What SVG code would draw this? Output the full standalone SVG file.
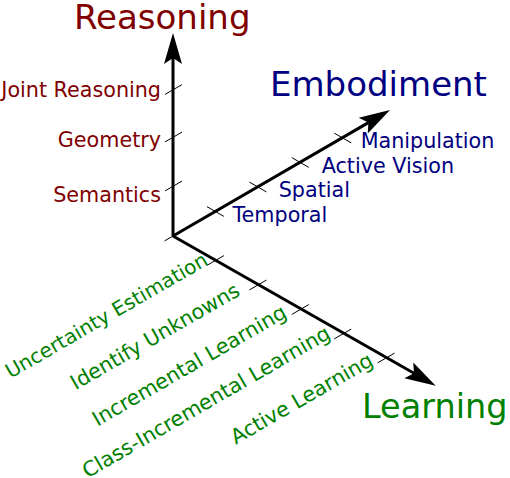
<svg xmlns="http://www.w3.org/2000/svg" width="510" height="478" viewBox="0 0 510 478">
<style>
text{font-family:"DejaVu Sans","Liberation Sans",sans-serif}
.title{font-size:34px}
.lab{font-size:20.7px}
.r{fill:#800000}
.e{fill:#000080}
.l{fill:#008000}
.axis{stroke:#000;stroke-width:3;fill:none}
.tick{stroke:#000;stroke-width:1;fill:none}
</style>
<defs>
<marker id="arr" markerUnits="userSpaceOnUse" viewBox="-8 -10 35 20" markerWidth="35" markerHeight="20" refX="0" refY="0" orient="auto" overflow="visible">
<path d="M25,0 L-6,-9 L0,0 L-6,9 Z" fill="#000"/>
</marker>
</defs>
<g id="connectors">
<line class="axis" x1="173" y1="236" x2="173" y2="58" marker-end="url(#arr)"/>
<line class="axis" x1="173" y1="236" x2="368.4" y2="122.6" marker-end="url(#arr)"/>
<line class="axis" x1="173" y1="236" x2="414" y2="373.3" marker-end="url(#arr)"/>
<g id="ticks">
<line class="tick" x1="164.5" y1="240.9" x2="181.5" y2="231.1"/>
<line class="tick" x1="165" y1="190.9" x2="182" y2="181.1"/>
<line class="tick" x1="165" y1="141.9" x2="182" y2="132.1"/>
<line class="tick" x1="165" y1="94.4" x2="182" y2="84.6"/>
<line class="tick" x1="206.9" y1="206.6" x2="223.9" y2="216.4"/>
<line class="tick" x1="249.4" y1="182.1" x2="266.4" y2="191.9"/>
<line class="tick" x1="291.8" y1="157.6" x2="308.8" y2="167.4"/>
<line class="tick" x1="334.2" y1="133.1" x2="351.2" y2="142.9"/>
<line class="tick" x1="206.9" y1="265.4" x2="223.9" y2="255.6"/>
<line class="tick" x1="249.4" y1="289.9" x2="266.4" y2="280.1"/>
<line class="tick" x1="291.8" y1="314.4" x2="308.8" y2="304.6"/>
<line class="tick" x1="334.2" y1="338.9" x2="351.2" y2="329.1"/>
<line class="tick" x1="377.6" y1="362.9" x2="394.6" y2="353.1"/>
</g>
</g>
<g id="reasoning">
<text class="title r" x="74" y="29">Reasoning</text>
<text class="lab r" x="161" y="96.7" text-anchor="end">Joint Reasoning</text>
<text class="lab r" x="161" y="146.7" text-anchor="end">Geometry</text>
<text class="lab r" x="161" y="201.7" text-anchor="end">Semantics</text>
</g>
<g id="embodiment">
<text class="title e" x="270" y="96">Embodiment</text>
<text class="lab e" x="232.5" y="222">Temporal</text>
<text class="lab e" x="278.7" y="197">Spatial</text>
<text class="lab e" x="321.7" y="173">Active Vision</text>
<text class="lab e" x="360.7" y="147.5">Manipulation</text>
</g>
<g id="learning">
<text class="title l" x="362" y="418" style="font-size:33.5px">Learning</text>
<text class="lab l" style="font-size:20px" transform="translate(215.4,260.5) rotate(-30)" x="-7" y="0" text-anchor="end">Uncertainty Estimation</text>
<text class="lab l" transform="translate(257.9,285) rotate(-30)" x="-19" y="0" text-anchor="end">Identify Unknowns</text>
<text class="lab l" transform="translate(300.3,309.5) rotate(-30)" x="-14" y="0" text-anchor="end">Incremental Learning</text>
<text class="lab l" transform="translate(342.7,334) rotate(-30)" x="-11" y="-2.5" text-anchor="end">Class-Incremental Learning</text>
<text class="lab l" transform="translate(385.1,358.5) rotate(-30)" x="-12" y="0" text-anchor="end">Active Learning</text>
</g>
</svg>
